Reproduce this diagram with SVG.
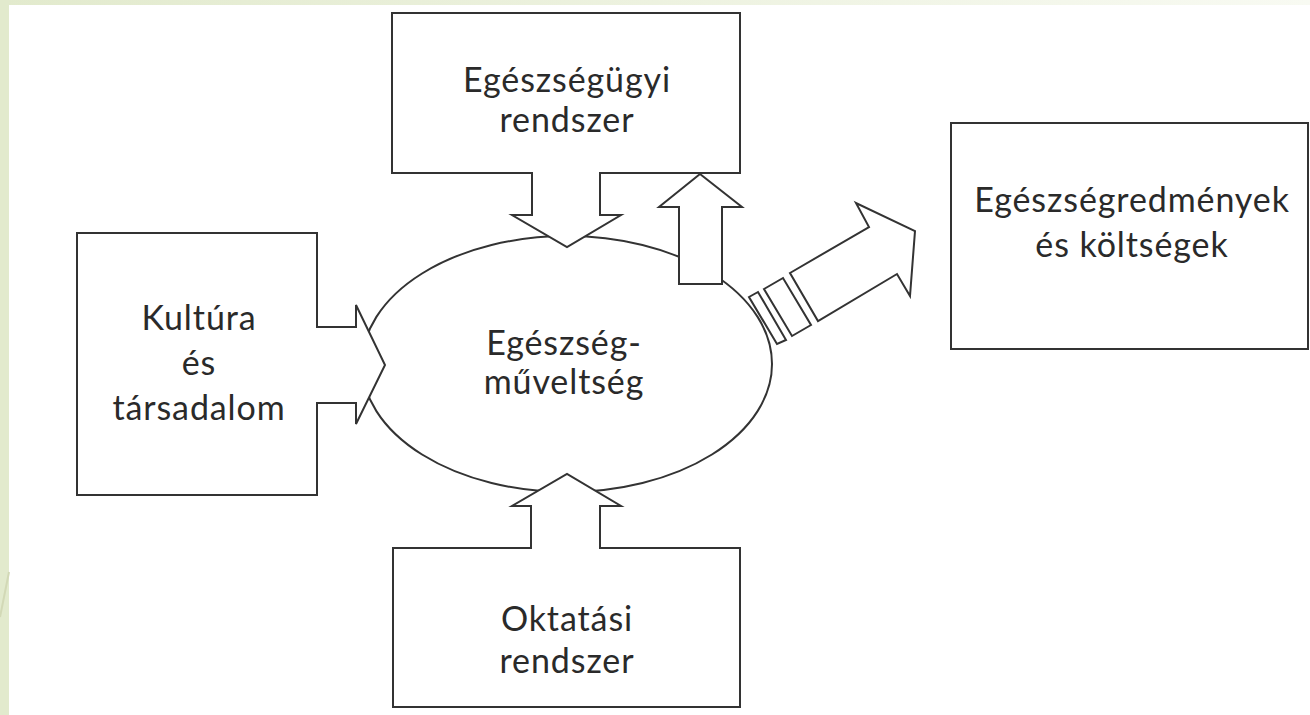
<svg xmlns="http://www.w3.org/2000/svg" width="1310" height="715" viewBox="0 0 1310 715">
  <defs>
    <linearGradient id="topband" x1="0" y1="0" x2="1" y2="0">
      <stop offset="0" stop-color="#e2eacd"/>
      <stop offset="1" stop-color="#f8faf2"/>
    </linearGradient>
  </defs>
  <style>
    .shape { fill: #ffffff; stroke: #333333; stroke-width: 2; stroke-linejoin: miter; }
    .label { font-family: Lato, "Open Sans", "Liberation Sans", sans-serif; font-size: 34px; letter-spacing: 0.9px; fill: #2a2a2a; text-anchor: middle; }
  </style>
  <rect x="0" y="0" width="1310" height="715" fill="#ffffff"/>
  <rect x="0" y="0" width="1310" height="5" fill="url(#topband)"/>
  <rect x="0" y="0" width="9" height="715" fill="#e2eacd"/>
  <line x1="9" y1="572" x2="0" y2="617" stroke="#d2d9b6" stroke-width="2"/>

  <g id="center">
    <ellipse class="shape" cx="567" cy="364" rx="205" ry="128"/>
    <text class="label" x="564" y="355">Egészség-</text>
    <text class="label" x="564" y="394">műveltség</text>
  </g>

  <g id="connectors">
    <polygon class="shape" points="700,174 742,207 722,207 722,284 679,284 679,207 659,207"/>
    <polygon class="shape" points="790,273 869,227 856,203 915,231 910,296 897,274 818,321"/>
    <polygon class="shape" points="764,289 783,278 811,325 792,336"/>
    <polygon class="shape" points="749,297 758,292 786,340 777,344"/>
  </g>

  <g id="health-system">
    <polygon class="shape" points="392,13 740,13 740,173 600,173 600,215 621,215 567,247 512,215 532,215 532,173 392,173"/>
    <text class="label" x="567" y="92">Egészségügyi</text>
    <text class="label" x="567" y="132">rendszer</text>
  </g>

  <g id="culture">
    <polygon class="shape" points="77,233 317,233 317,327 356,327 356,305 385,365 356,424 356,403 317,403 317,495 77,495"/>
    <text class="label" x="199" y="330">Kultúra</text>
    <text class="label" x="199" y="375">és</text>
    <text class="label" x="199" y="420">társadalom</text>
  </g>

  <g id="education">
    <polygon class="shape" points="393,707 393,548 531,548 531,506 512,506 567,474 621,506 600,506 600,548 740,548 740,707"/>
    <text class="label" x="567" y="631">Oktatási</text>
    <text class="label" x="567" y="673">rendszer</text>
  </g>

  <g id="outcomes">
    <rect class="shape" x="951" y="123" width="357" height="226"/>
    <text class="label" x="1132" y="212">Egészségredmények</text>
    <text class="label" x="1132" y="257">és költségek</text>
  </g>
</svg>
